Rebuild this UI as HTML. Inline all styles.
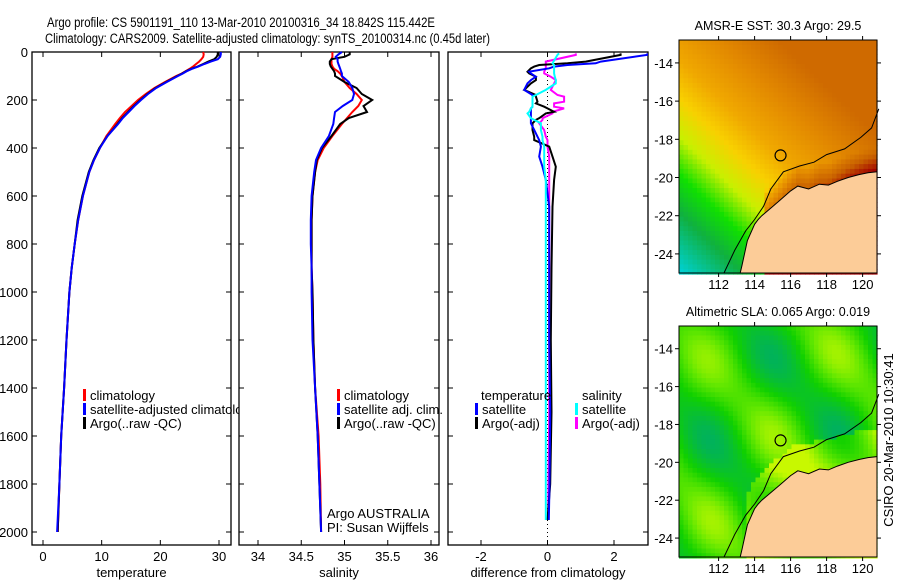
<!DOCTYPE html>
<html><head><meta charset="utf-8"><style>
body{margin:0;background:#fff;}
svg{display:block;font-family:"Liberation Sans",sans-serif;}
</style></head><body>
<svg id="fig" width="900" height="580" viewBox="0 0 900 580" xmlns="http://www.w3.org/2000/svg">
<text x="47" y="27" font-size="13.5" textLength="388" lengthAdjust="spacingAndGlyphs">Argo profile: CS 5901191_110 13-Mar-2010 20100316_34 18.842S 115.442E</text>
<text x="45" y="43" font-size="13.5" textLength="445" lengthAdjust="spacingAndGlyphs">Climatology: CARS2009. Satellite-adjusted climatology: synTS_20100314.nc (0.45d later)</text>
<g id="layer"></g>
</svg>
<script>
// ---------- data ----------
const depths = [0,10,20,30,40,50,60,70,80,90,100,125,150,175,200,225,250,275,300,350,400,450,500,600,700,800,900,1000,1200,1400,1600,1800,2000];
const tempClim = [27.3,27.4,27.3,27.0,26.6,26.1,25.6,25.0,24.3,23.6,22.7,20.8,19.0,17.5,16.2,15.1,14.0,13.1,12.3,10.8,9.7,8.7,7.9,6.8,6.0,5.4,4.9,4.5,4.0,3.6,3.1,2.8,2.5];
const tempSat = [30.3,30.3,30.2,29.8,28.6,27.5,26.5,25.4,24.5,23.8,23.0,21.1,19.3,17.9,16.7,15.6,14.6,13.6,12.8,11.0,9.7,8.7,7.9,6.8,6.0,5.4,4.9,4.5,4.0,3.6,3.1,2.8,2.4];
const tempArgo = [29.8,29.8,29.6,29.2,28.2,27.3,26.4,25.3,24.4,23.7,22.9,21.0,19.2,17.8,16.6,15.5,14.5,13.5,12.7,11.0,9.6,8.6,7.8,6.7,5.9,5.4,4.9,4.5,4.0,3.6,3.1,2.8,2.5];
const salClim = [34.86,34.86,34.86,34.85,34.85,34.85,34.86,34.88,34.92,34.95,34.97,35.0,35.06,35.14,35.2,35.16,35.09,35.03,34.97,34.86,34.76,34.69,34.66,34.63,34.62,34.62,34.62,34.63,34.64,34.66,34.70,34.72,34.73];
const salSat = [34.97,34.93,34.90,34.92,34.92,34.93,34.94,34.95,34.96,34.97,34.97,35.05,35.09,35.11,35.09,34.98,34.89,34.88,34.87,34.82,34.73,34.67,34.65,34.62,34.61,34.61,34.62,34.62,34.63,34.66,34.69,34.71,34.73];
const salArgo = [35.06,35.06,35.00,34.85,34.83,34.83,34.84,34.86,34.88,34.89,34.89,35.00,35.14,35.20,35.32,35.22,35.26,35.05,34.95,34.85,34.74,34.68,34.66,34.63,34.62,34.62,34.62,34.63,34.64,34.66,34.69,34.71,34.73];
const diffDepths = [6,12,40,47,54,61,68,82,89,103,117,131,158,179,186,207,214,228,235,249,256,276,283,297,325,353,367,394,436,478,533,644,900,1200,1500,1800,1950];
const diffTempSat = [3.0,3.0,1.6,1.45,0.6,0.2,0.05,-0.55,-0.5,-0.35,-0.5,-0.6,-0.7,-0.45,-0.45,-0.45,-0.45,-0.45,-0.5,-0.5,-0.5,-0.5,-0.5,-0.5,-0.4,-0.3,-0.25,-0.2,-0.25,-0.15,-0.05,0.05,0.05,0.05,0.08,0.06,0.04];
const diffTempArgo = [2.2,2.2,1.15,0.6,-0.25,-0.4,-0.5,-0.6,-0.55,-0.35,-0.35,-0.5,-0.7,-0.35,-0.35,-0.3,-0.35,-0.1,0.0,0.2,-0.05,-0.25,-0.35,-0.45,-0.45,-0.4,-0.4,0.05,0.15,0.25,0.2,0.15,0.12,0.1,0.12,0.08,0.0];
const diffSalSat = [0.35,0.3,0.18,0.15,0.2,0.2,0.2,0.2,0.2,0.22,0.25,0.25,-0.05,-0.35,-0.45,-0.45,-0.45,-0.45,-0.5,-0.55,-0.6,-0.5,-0.4,-0.2,-0.2,-0.15,-0.15,-0.1,-0.1,-0.1,-0.05,-0.05,-0.05,-0.05,-0.05,-0.05,-0.05];
const diffSalArgo = [0.85,0.85,-0.05,-0.05,-0.05,-0.05,-0.05,-0.1,-0.1,0.1,0.25,0.2,0.1,0.3,0.5,0.5,0.2,0.2,0.5,0.15,0.15,-0.15,-0.15,-0.25,-0.1,-0.05,0.0,0.0,0.05,0.05,0.05,0.05,0.05,0.05,0.05,0.03,0.02];
const depthTicks = [0,200,400,600,800,1000,1200,1400,1600,1800,2000];
const tempTicks = [0,10,20,30];
const salTicks = [34,34.5,35,35.5,36];
const salTickLabels = ["34","34.5","35","35.5","36"];
const diffTicks = [-2,0,2];
const lonTicks = [112,114,116,118,120];
const latTicks = [-14,-16,-18,-20,-22,-24];
const argoPos = [115.442,-18.842];
const coastLon = [113.2,113.3,113.6,114.0,114.2,114.4,114.9,115.4,116.0,116.4,117.0,117.6,118.1,118.6,119.2,119.8,120.3,120.8];
const coastLat = [-25.0,-24.6,-23.3,-22.45,-22.2,-22.0,-21.6,-21.2,-20.7,-20.45,-20.6,-20.35,-20.4,-20.2,-20.0,-19.85,-19.75,-19.7];
const isoLon = [112.3,112.9,113.5,114.0,114.5,114.9,115.6,116.5,117.3,118.0,119.0,119.9,120.5,120.9];
const isoLat = [-25.0,-23.8,-22.8,-22.2,-21.5,-20.6,-19.7,-19.4,-19.2,-18.8,-18.5,-17.9,-17.4,-16.4];

// ---------- helpers ----------
const NS='http://www.w3.org/2000/svg';
const layer=document.getElementById('layer');
function mk(tag,attrs,parent){const e=document.createElementNS(NS,tag);for(const k in attrs)e.setAttribute(k,attrs[k]);(parent||layer).appendChild(e);return e;}
const TOP=52,BOT=545;
function yD(d){return 52+d*0.24;}
function panelX(x0,x1,v0,v1){return v=>x0+(v-v0)*(x1-x0)/(v1-v0);}

function drawPanel(name,L,R,xs,ticks,labels,title,showY){
  const g=mk('g',{});
  
  
  mk('rect',{x:L,y:TOP,width:R-L,height:BOT-TOP,fill:'#fff',stroke:'#000','stroke-width':1.3},g);
  ticks.forEach((t,i)=>{
    const x=xs(t);
    mk('line',{x1:x,y1:BOT,x2:x,y2:BOT-5,stroke:'#000'},g);
    mk('line',{x1:x,y1:TOP,x2:x,y2:TOP+5,stroke:'#000'},g);
    const tx=mk('text',{x:x,y:561,'font-size':13,'text-anchor':'middle'},g);
    tx.textContent=labels[i];
    
    
  });
  depthTicks.forEach(d=>{
    const y=yD(d);
    mk('line',{x1:L,y1:y,x2:L+5,y2:y,stroke:'#000'},g);
    mk('line',{x1:R,y1:y,x2:R-5,y2:y,stroke:'#000'},g);
    if(showY){const t=mk('text',{x:L-4,y:y+5,'font-size':13,'text-anchor':'end'},g);t.textContent=String(d);
      
      }
  });
  const tt=mk('text',{x:(L+R)/2,y:577,'font-size':13,'text-anchor':'middle'},g);
  tt.textContent=title;
  
  
  return g;
}
function series(g,xs,ds,vals,color,name,w){
  const pts=vals.map((v,i)=>xs(v).toFixed(1)+','+yD(ds[i]).toFixed(1)).join(' ');
  const p=mk('polyline',{points:pts,fill:'none',stroke:color,'stroke-width':w||2,'stroke-linejoin':'miter'},g);
  
  
}
function legendItem(g,x,y,color,label,name){
  if(color) mk('rect',{x:x-7,y:y-11,width:3,height:12,fill:color},g);
  const t=mk('text',{x:x,y:y,'font-size':13},g);t.textContent=label;
  
  
}

// ---------- panel 1 ----------
const xT=panelX(43,219,0,30);
const p1=drawPanel('temperature-panel',32,231,xT,tempTicks,tempTicks.map(String),'temperature',true);
series(p1,xT,depths,tempClim,'#f00','temp-climatology-line');
series(p1,xT,depths,tempArgo,'#000','temp-argo-line');
series(p1,xT,depths,tempSat,'#00f','temp-satellite-line');
legendItem(p1,90,400,'#f00','climatology','legend-climatology');
legendItem(p1,90,414,'#00f','satellite-adjusted climatology','legend-satellite');
legendItem(p1,90,428,'#000','Argo(..raw -QC)','legend-argo');

// ---------- panel 2 ----------
const xS=panelX(258,431,34,36);
const p2=drawPanel('salinity-panel',239,439,xS,salTicks,salTickLabels,'salinity',false);
series(p2,xS,depths,salClim,'#f00','sal-climatology-line');
series(p2,xS,depths,salArgo,'#000','sal-argo-line');
series(p2,xS,depths,salSat,'#00f','sal-satellite-line');
legendItem(p2,344,400,'#f00','climatology','legend-climatology');
legendItem(p2,344,414,'#00f','satellite adj. clim.','legend-satellite');
legendItem(p2,344,428,'#000','Argo(..raw -QC)','legend-argo');
legendItem(p2,327,518,null,'Argo AUSTRALIA','credit-argo-australia');
legendItem(p2,327,532,null,'PI: Susan Wijffels','credit-pi');

// ---------- panel 3 ----------
const xDf=panelX(481,614,-2,2);
const p3=drawPanel('difference-panel',448,648,xDf,diffTicks,diffTicks.map(String),'difference from climatology',false);
mk('line',{x1:xDf(0),y1:TOP,x2:xDf(0),y2:BOT,stroke:'#000','stroke-dasharray':'1,3'},p3);
const clip=mk('clipPath',{id:'c3'},p3);mk('rect',{x:448,y:TOP,width:200,height:BOT-TOP},clip);
const p3s=mk('g',{'clip-path':'url(#c3)'},p3);
series(p3s,xDf,diffDepths,diffSalArgo,'#f0f','diff-sal-argo-line');
series(p3s,xDf,diffDepths,diffTempArgo,'#000','diff-temp-argo-line');
series(p3s,xDf,diffDepths,diffTempSat,'#00f','diff-temp-satellite-line');
series(p3s,xDf,diffDepths,diffSalSat,'#0ff','diff-sal-satellite-line');
legendItem(p3,481,400,null,'temperature','legend-temperature-header');
legendItem(p3,482,414,'#00f','satellite','legend-temp-satellite');
legendItem(p3,482,428,'#000','Argo(-adj)','legend-temp-argo');
legendItem(p3,582,400,null,'salinity','legend-salinity-header');
legendItem(p3,582,414,'#0ff','satellite','legend-sal-satellite');
legendItem(p3,582,428,'#f0f','Argo(-adj)','legend-sal-argo');

// ---------- maps ----------
function sstColor(v){
  const st=[[0,[0,208,208]],[3,[16,176,64]],[5,[16,224,0]],[7,[200,240,0]],[9,[248,208,0]],[11,[240,168,0]],[14,[226,136,0]],[18,[200,96,0]],[22,[160,0,0]]];
  if(v<=0)return 'rgb(0,208,208)';
  for(let i=1;i<st.length;i++){if(v<=st[i][0]){const a=st[i-1],b=st[i],f=(v-a[0])/(b[0]-a[0]);return 'rgb('+a[1].map((c,k)=>Math.round(c+(b[1][k]-c)*f)).join(',')+')';}}
  return 'rgb(160,0,0)';
}
function slaColor(v){
  const st=[[0,[0,176,96]],[0.4,[16,208,0]],[0.7,[100,232,0]],[1,[200,248,0]]];
  v=Math.max(0,Math.min(1,v));
  for(let i=1;i<st.length;i++){if(v<=st[i][0]){const a=st[i-1],b=st[i],f=(v-a[0])/(b[0]-a[0]);return 'rgb('+a[1].map((c,k)=>Math.round(c+(b[1][k]-c)*f)).join(',')+')';}}
}
function coastLatAt(lon){for(let i=1;i<coastLon.length;i++){if(lon<=coastLon[i]){const f=(lon-coastLon[i-1])/(coastLon[i]-coastLon[i-1]);return coastLat[i-1]+f*(coastLat[i]-coastLat[i-1]);}}return -19.7;}
function drawMap(name,T,B,title,field){
  const L=679,R=877;
  const lx=lon=>679+(lon-109.8)*18;
  const ly=lat=>T+(-12.8-lat)*(B-T)/12.2;
  const g=mk('g',{});
  
  
  const step=0.25;
  for(let lon=109.8;lon<120.8;lon+=step){
    for(let lat=-12.8;lat>-25;lat-=step){
      mk('rect',{x:lx(lon).toFixed(1),y:ly(lat).toFixed(1),width:(step*18+0.6).toFixed(1),height:(step*(B-T)/12.2+0.6).toFixed(1),fill:field(lon+step/2,lat-step/2)},g);
    }
  }
  const lp=coastLon.map((lo,i)=>lx(lo).toFixed(1)+','+ly(coastLat[i]).toFixed(1));
  lp.push(lx(120.8)+','+ly(-25),lx(113.2)+','+ly(-25));
  const land=mk('polygon',{points:lp.join(' '),fill:'#fccc98',stroke:'#000','stroke-width':1},g);
  
  
  const iso=mk('polyline',{points:isoLon.map((lo,i)=>lx(lo).toFixed(1)+','+ly(isoLat[i]).toFixed(1)).join(' '),fill:'none',stroke:'#000','stroke-width':1},g);
  
  
  const c=mk('circle',{cx:lx(argoPos[0]),cy:ly(argoPos[1]),r:5.5,fill:'none',stroke:'#000','stroke-width':1.2},g);
  
  
  mk('rect',{x:L,y:T,width:R-L,height:B-T,fill:'none',stroke:'#000'},g);
  lonTicks.forEach(lo=>{const x=lx(lo);
    mk('line',{x1:x,y1:T,x2:x,y2:T-4,stroke:'#000'},g);mk('line',{x1:x,y1:B,x2:x,y2:B+4,stroke:'#000'},g);
    const t=mk('text',{x:x,y:B+16,'font-size':13,'text-anchor':'middle'},g);t.textContent=String(lo);
    
    });
  latTicks.forEach(la=>{const y=ly(la);
    mk('line',{x1:L,y1:y,x2:L-4,y2:y,stroke:'#000'},g);mk('line',{x1:R,y1:y,x2:R+4,y2:y,stroke:'#000'},g);
    const t=mk('text',{x:L-6,y:y+5,'font-size':13,'text-anchor':'end'},g);t.textContent=String(la);
    
    });
  const tt=mk('text',{x:(L+R)/2,y:T-10,'font-size':12.5,'text-anchor':'middle'},g);tt.textContent=title;
  
  
}
drawMap('sst-map',40,273,'AMSR-E SST: 30.3 Argo: 29.5',(lon,lat)=>{
  let v=Math.min(17,(lon-110)*0.9+(lat+25)*1.0);
  const cl=coastLatAt(lon);
  if(lon>114.5&&lat-cl<1.2) v+=(1.2-(lat-cl))*6;
  return sstColor(v);
});
drawMap('sla-map',326,557,'Altimetric SLA: 0.065 Argo: 0.019',(lon,lat)=>{
  let v=0.45+0.25*Math.sin((lon-110)*0.9)*Math.cos((lat+14)*0.7)+0.2*Math.sin((lon+lat)*0.8);
  const cl=coastLatAt(lon);
  if(lon>113.5&&lat-cl<1.5) v+=0.4;
  return slaColor(v);
});
const cs=mk('text',{x:0,y:0,'font-size':13,'text-anchor':'middle',transform:'translate(893,440) rotate(-90)'});
cs.textContent='CSIRO 20-Mar-2010 10:30:41';


</script>
</body></html>
